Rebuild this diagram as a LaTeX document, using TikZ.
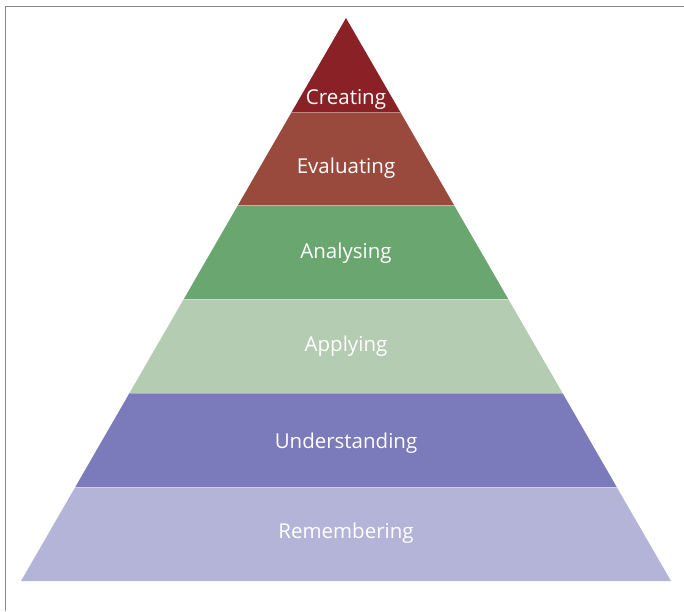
\documentclass[tikz,border=0pt]{standalone}
\usepackage{fontspec}
\setmainfont{Open Sans}
\definecolor{cCreate}{RGB}{138,33,38}
\definecolor{cEval}{RGB}{154,74,61}
\definecolor{cAnal}{RGB}{106,167,112}
\definecolor{cAppl}{RGB}{179,204,178}
\definecolor{cUnder}{RGB}{123,122,186}
\definecolor{cRemem}{RGB}{180,180,216}
\definecolor{frameGray}{RGB}{136,136,136}
\tikzset{
  band/.style={draw=white, line width=0.4pt, line join=miter},
  lvl/.style={anchor=base, text=white, inner sep=0pt, font=\fontsize{20.5}{24}\selectfont},
  framel/.style={draw=frameGray, line width=1.5pt}
}
\begin{document}
\begin{tikzpicture}[x=1pt,y=-1pt]
\useasboundingbox (0,0) rectangle (684,611);
\fill[white] (0,0) rectangle (684,611);
% frame
\coordinate (fbl) at (5.5,611);
\coordinate (ftl) at (5.5,6.5);
\coordinate (ftr) at (684,6.5);
\draw[framel] (fbl) -- (ftl) -- (ftr);
% pyramid corner points
\coordinate (apex) at (346,18);
\coordinate (l1) at (291.7,112); \coordinate (r1) at (400.3,112);
\coordinate (l2) at (238.05,205); \coordinate (r2) at (453.95,205);
\coordinate (l3) at (183.8,299); \coordinate (r3) at (508.2,299);
\coordinate (l4) at (129.5,393); \coordinate (r4) at (562.5,393);
\coordinate (l5) at (75.3,487); \coordinate (r5) at (616.7,487);
\coordinate (l6) at (21,581); \coordinate (r6) at (671,581);
% bands
\fill[cCreate] (apex) -- (r1) -- (l1) -- cycle;
\fill[cEval] (l1) -- (r1) -- (r2) -- (l2) -- cycle;
\fill[cAnal] (l2) -- (r2) -- (r3) -- (l3) -- cycle;
\fill[cAppl] (l3) -- (r3) -- (r4) -- (l4) -- cycle;
\fill[cUnder] (l4) -- (r4) -- (r5) -- (l5) -- cycle;
\fill[cRemem] (l5) -- (r5) -- (r6) -- (l6) -- cycle;
% thin separators
\draw[white, opacity=0.35, line width=0.6pt] (l1) -- (r1) (l2) -- (r2) (l3) -- (r3) (l4) -- (r4) (l5) -- (r5);
% labels
\node[lvl] (creating) at (346,104) {Creating};
\node[lvl] (evaluating) at (346,173) {Evaluating};
\node[lvl] (analysing) at (346,258) {Analysing};
\node[lvl] (applying) at (346,351) {Applying};
\node[lvl] (understanding) at (346,448) {Understanding};
\node[lvl] (remembering) at (346,538) {Remembering};
\end{tikzpicture}
\end{document}
